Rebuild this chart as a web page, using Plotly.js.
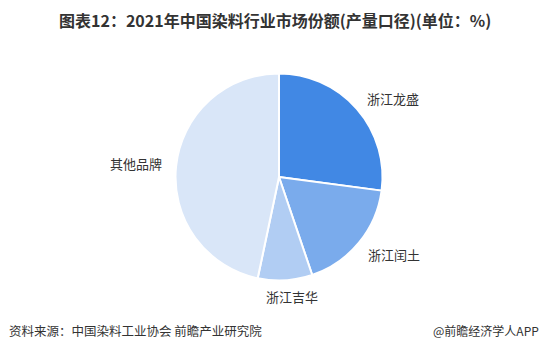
<!DOCTYPE html>
<html>
<head>
<meta charset="utf-8">
<script src="https://cdn.plot.ly/plotly-3.0.1.min.js"></script>
<style>
html,body{margin:0;padding:0;background:#fff;}
#chart{width:548px;height:353px;}
</style>
</head>
<body>
<div id="chart"></div>
<script>
const categories = ["浙江龙盛", "浙江闰土", "浙江吉华", "其他品牌"];
const shares = [27.1, 17.7, 8.5, 46.7];
const sliceColors = ["#4188e4", "#7aabec", "#b1cdf3", "#d9e6f8"];
const titleText = "图表12：2021年中国染料行业市场份额(产量口径)(单位：%)";
const sourceText = "资料来源：中国染料工业协会 前瞻产业研究院";
const creditText = "@前瞻经济学人APP";

const labelPos = [
  {x: 392.5, y: 98},
  {x: 394, y: 254},
  {x: 292, y: 296},
  {x: 135.5, y: 163}
];
const W = 548, H = 353;

const annotations = categories.map((c, i) => ({
  text: c, xref: "paper", yref: "paper",
  x: labelPos[i].x / W, y: 1 - labelPos[i].y / H,
  xanchor: "center", yanchor: "middle", showarrow: false,
  font: {family: "Noto Sans CJK SC, sans-serif", size: 13, color: "#333333"}
}));
annotations.push({
  text: sourceText, xref: "paper", yref: "paper",
  x: 7 / W, y: 1 - 330 / H, xanchor: "left", yanchor: "middle", showarrow: false,
  font: {family: "Noto Sans CJK SC, sans-serif", size: 12.5, color: "#333333"}
});
annotations.push({
  text: creditText, xref: "paper", yref: "paper",
  x: 541 / W, y: 1 - 330 / H, xanchor: "right", yanchor: "middle", showarrow: false,
  font: {family: "Noto Sans CJK SC, sans-serif", size: 12, color: "#333333"}
});
annotations.push({
  text: "<b>" + titleText + "</b>", xref: "paper", yref: "paper",
  x: 275 / W, y: 1 - 20 / H, xanchor: "center", yanchor: "middle", showarrow: false,
  font: {family: "Noto Sans CJK SC, sans-serif", size: 16, color: "#333333"}
});

const cx = 279, cy = 177, r = 103.5;
const trace = {
  type: "pie",
  labels: categories,
  values: shares,
  sort: false,
  direction: "clockwise",
  rotation: 0,
  textinfo: "none",
  hoverinfo: "label+percent",
  marker: {colors: sliceColors, line: {color: "#ffffff", width: 2}},
  domain: {x: [(cx - r) / W, (cx + r) / W], y: [1 - (cy + r) / H, 1 - (cy - r) / H]},
  showlegend: false
};

Plotly.newPlot("chart", [trace], {
  width: W, height: H,
  margin: {l: 0, r: 0, t: 0, b: 0},
  paper_bgcolor: "#ffffff",
  showlegend: false,
  annotations: annotations
}, {displayModeBar: false, staticPlot: true});
</script>
</body>
</html>
